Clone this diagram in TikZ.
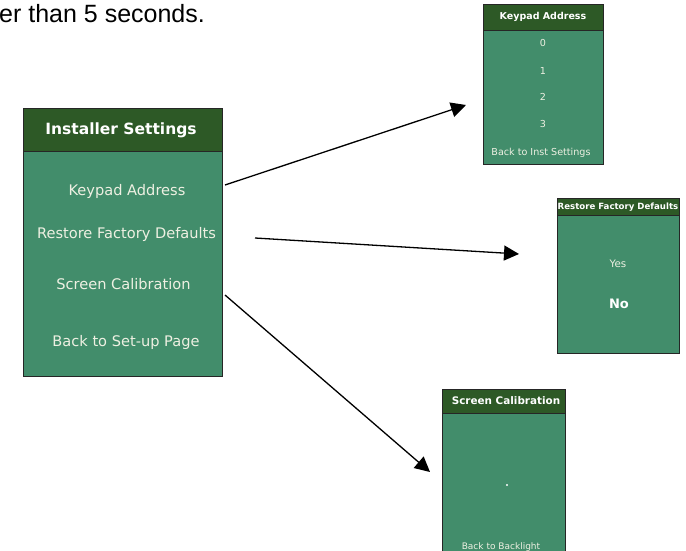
\documentclass[tikz,border=0pt]{standalone}
\usepackage{fontspec}
\setmainfont{DejaVu Sans}
\newfontfamily\notefont{Liberation Sans}
\usepackage{tikz}
\usetikzlibrary{arrows.meta}

\definecolor{panelgreen}{RGB}{66,141,107}
\definecolor{headgreen}{RGB}{45,89,38}
\definecolor{itemtext}{RGB}{238,240,226}

\begin{document}
\begin{tikzpicture}[x=1pt, y=-1pt,
    panel/.style={draw=black!85, line width=1pt, fill=panelgreen, anchor=north west, inner sep=0pt},
    header/.style={draw=black!85, line width=1pt, fill=headgreen, anchor=north west, inner sep=0pt},
    link/.style={draw=black, line width=1.3pt, -{Triangle[length=15pt, width=15pt]}}]
\useasboundingbox (0,0) rectangle (686,551);

\node[anchor=base west, inner sep=0pt] (note) at (-1,23) {\notefont\fontsize{25}{30}\selectfont er than 5 seconds.};

% panels
\node[panel, minimum width=199pt, minimum height=268pt] (inst) at (23,108) {};
\node[header, minimum width=199pt, minimum height=43pt] (instHead) at (23,108) {};
\node[panel, minimum width=120pt, minimum height=160pt] (kp) at (483,4) {};
\node[header, minimum width=120pt, minimum height=26pt] (kpHead) at (483,4) {};
\node[panel, minimum width=122pt, minimum height=155pt] (rf) at (557,198) {};
\node[header, minimum width=122pt, minimum height=17pt] (rfHead) at (557,198) {};
\node[panel, minimum width=123pt, minimum height=166pt] (sc) at (442,389) {};
\node[header, minimum width=123pt, minimum height=24pt] (scHead) at (442,389) {};

\begin{scope}[every node/.style={anchor=base, inner sep=0pt, text=itemtext}]
  \node[text=white] (instTitle) at (121,135) {\fontsize{15.5}{18}\selectfont\bfseries Installer Settings};
  \node (instKeypad) at (127,195) {\fontsize{14.6}{17}\selectfont Keypad Address};
  \node (instRestore) at (126.5,238) {\fontsize{14.6}{17}\selectfont Restore Factory Defaults};
  \node (instScreen) at (123.5,289) {\fontsize{14.6}{17}\selectfont Screen Calibration};
  \node (instBack) at (126,346) {\fontsize{14.6}{17}\selectfont Back to Set-up Page};

  \node[text=white] (kpTitle) at (543,20) {\fontsize{9.5}{11}\selectfont\bfseries Keypad Address};
  \node (kpZero) at (543,47) {\fontsize{9.6}{11}\selectfont 0};
  \node (kpOne) at (543,75) {\fontsize{9.6}{11}\selectfont 1};
  \node (kpTwo) at (543,101) {\fontsize{9.6}{11}\selectfont 2};
  \node (kpThree) at (543,128) {\fontsize{9.6}{11}\selectfont 3};
  \node (kpBack) at (541,155) {\fontsize{9.6}{11}\selectfont Back to Inst Settings};

  \node[text=white] (rfTitle) at (618,209.5) {\fontsize{8.6}{10}\selectfont\bfseries Restore Factory Defaults};
  \node (rfYes) at (618,267) {\fontsize{10.3}{12}\selectfont Yes};
  \node[text=white] (rfNo) at (619,308) {\fontsize{13}{15}\selectfont\bfseries No};

  \node[text=white] (scTitle) at (506,404) {\fontsize{10.4}{12}\selectfont\bfseries Screen Calibration};
  \node (scBack) at (501,549) {\fontsize{9}{10}\selectfont Back to Backlight};
\end{scope}
\fill[white] (507,485) circle (1.2);

% arrows
\coordinate (kpFrom) at (225,185);
\coordinate (kpTo) at (466,105);
\coordinate (rfFrom) at (255,238);
\coordinate (rfTo) at (519,254);
\coordinate (scFrom) at (225,295);
\coordinate (scTo) at (430,472);
\draw[link] (kpFrom) -- (kpTo);
\draw[link] (rfFrom) -- (rfTo);
\draw[link] (scFrom) -- (scTo);
\end{tikzpicture}
\end{document}
